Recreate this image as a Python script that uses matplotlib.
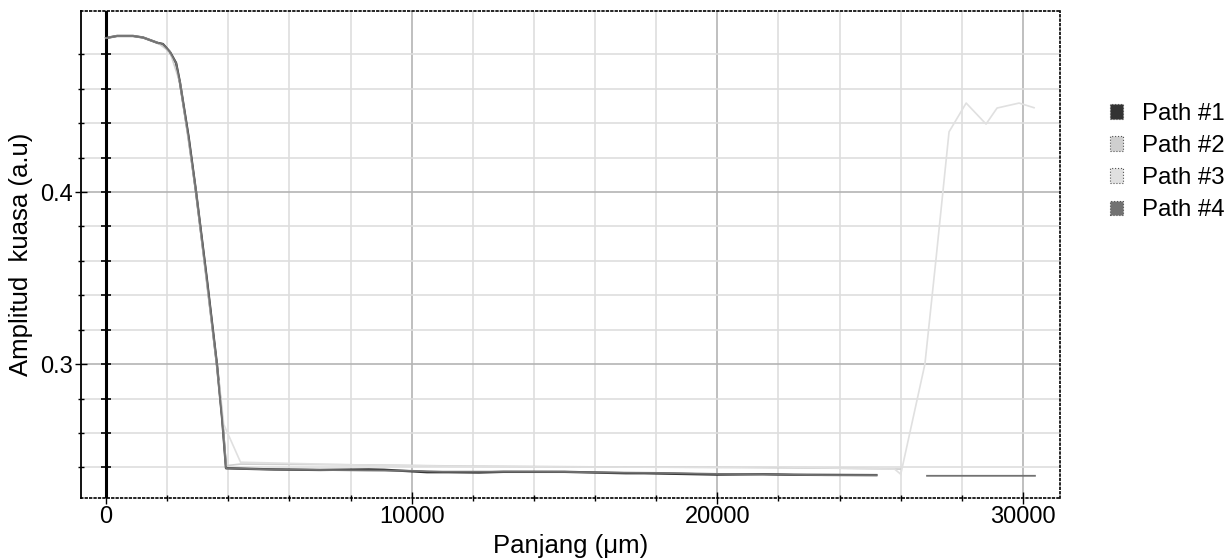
import numpy as np
import matplotlib
matplotlib.use("Agg")
import matplotlib.pyplot as plt
from matplotlib.patches import Patch
from matplotlib.ticker import MultipleLocator, FixedLocator

plt.rcParams['font.family'] = ['Liberation Sans', 'DejaVu Sans']

# ---------------- data ----------------
top_x = [0, 360, 880, 1210, 1700, 1860, 2090, 2290, 2420, 2700, 2940, 3300, 3630, 3800, 3925]
top_y = [0.4895, 0.4907, 0.4907, 0.4898, 0.4866, 0.4860, 0.4814, 0.4750, 0.4634, 0.4320,
         0.4006, 0.3490, 0.2994, 0.2680, 0.2395]

p4_x = top_x + [4500, 5500, 7000, 8500, 10000, 11000, 13000, 15000, 16500, 18000, 20000,
                21500, 22500, 23500, 25200, 26000, 26860, 30390]
p4_y = top_y + [0.2392, 0.2388, 0.2385, 0.2382, 0.2380, 0.2375, 0.2375, 0.2374, 0.2370,
                0.2368, 0.2362, 0.2360, 0.2357, 0.2355, 0.2355, np.nan, 0.2351, 0.2351]

p1_x = top_x + [4500, 5500, 7000, 8600, 9100, 10500, 11200, 12200, 13000, 15000, 17000,
                17600, 20000, 21500, 22500, 25200]
p1_y = top_y + [0.2392, 0.2388, 0.2385, 0.2388, 0.2386, 0.2372, 0.2372, 0.2370, 0.2374,
                0.2374, 0.2366, 0.2366, 0.2358, 0.2360, 0.2357, 0.2355]

p2_x = [0, 360, 880, 1210, 1700, 2090, 2420, 2940, 3300, 3630, 3800, 3925, 4400, 8000,
        12000, 16000, 20000, 24000, 26000]
p2_y = [0.4895, 0.4907, 0.4907, 0.4898, 0.4866, 0.4814, 0.4634, 0.4000, 0.3460, 0.2985,
        0.2700, 0.2410, 0.2419, 0.2415, 0.2407, 0.2403, 0.2400, 0.2395, 0.2390]

p3_x = [3700, 3850, 4400, 8000, 12000, 16000, 20000, 22000, 24000, 25800, 26000, 26790,
        27150, 27580, 28140, 28790, 29150, 29870, 30360]
p3_y = [0.2900, 0.2650, 0.2430, 0.2415, 0.2405, 0.2402, 0.2400, 0.2403, 0.2395, 0.2390,
        0.2360, 0.3000, 0.3605, 0.4350, 0.4517, 0.4395, 0.4488, 0.4517, 0.4490]

labels = ['Path #1', 'Path #2', 'Path #3', 'Path #4']
colors = ['#333333', '#cfcfcf', '#e0e0e0', '#727272']

x_major = [0, 10000, 20000, 30000]
y_major = [0.3, 0.4]
y_minor = [0.24, 0.26, 0.28, 0.32, 0.34, 0.36, 0.38, 0.42, 0.44, 0.46, 0.48]

# ---------------- figure ----------------
fig = plt.figure(figsize=(12.32, 5.6), dpi=100)
ax = fig.add_axes([81/1232, 62/560, (1060-81)/1232, (498-11)/560])

ax.set_xlim(-820, 31210)
ax.set_ylim(0.2222, 0.5052)

ax.xaxis.set_major_locator(FixedLocator(x_major))
ax.xaxis.set_minor_locator(MultipleLocator(2000))
ax.yaxis.set_major_locator(FixedLocator(y_major))
ax.yaxis.set_minor_locator(FixedLocator(y_minor))

ax.grid(which='minor', color='#dedede', linewidth=1.2, zorder=0)
ax.grid(which='major', color='#b4b4b4', linewidth=1.2, zorder=0)
ax.set_axisbelow(True)

ax.tick_params(axis='both', which='both', direction='inout', color='black')
ax.tick_params(axis='both', which='major', length=8, width=1, labelsize=17, pad=2)
ax.tick_params(axis='both', which='minor', length=5, width=1)

for side in ['top', 'right', 'bottom']:
    ax.spines[side].set_linestyle(':')
    ax.spines[side].set_linewidth(1.2)
ax.spines['left'].set_linewidth(1.3)

# thick line at x = 0 with ticks
ax.axvline(0, color='black', linewidth=2.2, zorder=3)
yt = y_major + y_minor
ax.plot(np.zeros(len(yt)), yt, linestyle='none', marker='_', markersize=7,
        markeredgewidth=1.2, color='black', zorder=3, clip_on=False)

ax.plot(p1_x, p1_y, color=colors[0], linewidth=1.7, zorder=4)
ax.plot(p2_x, p2_y, color=colors[1], linewidth=1.2, zorder=4)
ax.plot(p3_x, p3_y, color=colors[2], linewidth=1.2, zorder=4)
ax.plot(p4_x, p4_y, color=colors[3], linewidth=1.3, zorder=5)

ax.set_xlabel('Panjang (μm)', fontsize=18.5, labelpad=4)
ax.set_ylabel('Amplitud  kuasa (a.u)', fontsize=18.5, labelpad=5)

handles = [Patch(facecolor=c, edgecolor='#555555', linestyle=':', linewidth=0.8) for c in colors]
fig.legend(handles, labels, loc='upper left', bbox_to_anchor=(1110/1232, 1 - 103/560),
           frameon=False, fontsize=17.3, handlelength=0.55, handleheight=0.55,
           handletextpad=0.8, labelspacing=0.42, borderaxespad=0, borderpad=0)

fig.savefig('out.png', dpi=100)
